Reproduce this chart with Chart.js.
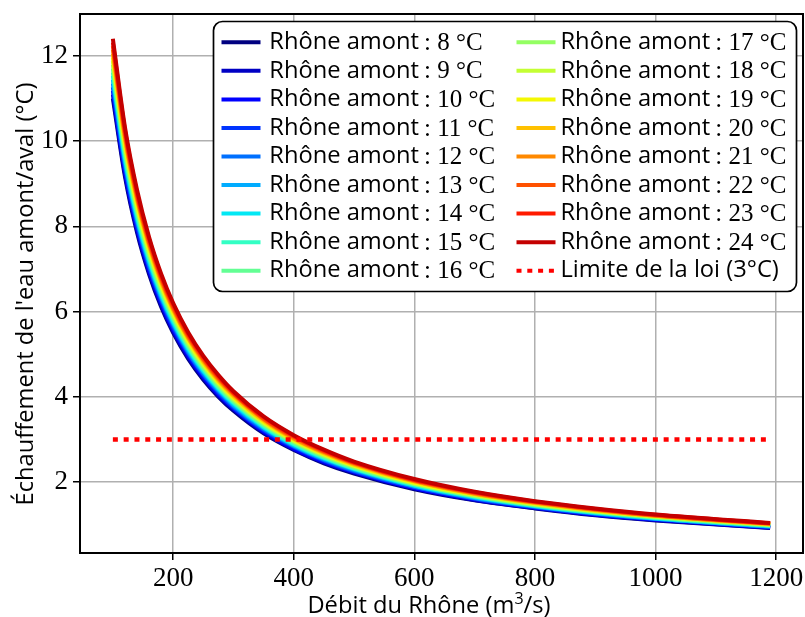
<!DOCTYPE html>
<html lang="fr">
<head>
<meta charset="utf-8">
<title>Échauffement du Rhône</title>
<script src="https://cdn.jsdelivr.net/npm/chart.js@4.4.1/dist/chart.umd.min.js"></script>
<style>
  html, body { margin: 0; padding: 0; background: #fff; }
  #wrap { width: 805px; height: 617px; }
</style>
</head>
<body>
<div id="wrap"><canvas id="rhoneChart" width="805" height="617"></canvas></div>
<script>
// Débits du Rhône (m3/s) où les courbes sont relevées
const debits = [100, 120, 140, 160, 180, 200, 225, 250, 275, 300, 350, 400, 450, 500, 600, 700, 800, 900, 1000, 1190];

// Températures amont du Rhône (°C)
const temperaturesAmont = [8, 9, 10, 11, 12, 13, 14, 15, 16, 17, 18, 19, 20, 21, 22, 23, 24];

// Échauffement amont/aval (°C) lu sur chaque courbe
const ech08 = [11.00, 9.17, 7.86, 6.88, 6.11, 5.50, 4.89, 4.40, 4.00, 3.67, 3.14, 2.75, 2.44, 2.20, 1.83, 1.57, 1.38, 1.22, 1.10, 0.92];
const ech09 = [11.09, 9.24, 7.92, 6.93, 6.16, 5.54, 4.93, 4.44, 4.03, 3.70, 3.17, 2.77, 2.46, 2.22, 1.85, 1.58, 1.39, 1.23, 1.11, 0.93];
const ech10 = [11.18, 9.31, 7.98, 6.98, 6.21, 5.59, 4.97, 4.47, 4.06, 3.73, 3.19, 2.79, 2.48, 2.24, 1.86, 1.60, 1.40, 1.24, 1.12, 0.94];
const ech11 = [11.26, 9.39, 8.04, 7.04, 6.26, 5.63, 5.01, 4.51, 4.10, 3.75, 3.22, 2.82, 2.50, 2.25, 1.88, 1.61, 1.41, 1.25, 1.13, 0.95];
const ech12 = [11.35, 9.46, 8.11, 7.09, 6.31, 5.68, 5.04, 4.54, 4.13, 3.78, 3.24, 2.84, 2.52, 2.27, 1.89, 1.62, 1.42, 1.26, 1.14, 0.95];
const ech13 = [11.44, 9.53, 8.17, 7.15, 6.35, 5.72, 5.08, 4.58, 4.16, 3.81, 3.27, 2.86, 2.54, 2.29, 1.91, 1.63, 1.43, 1.27, 1.14, 0.96];
const ech14 = [11.53, 9.60, 8.23, 7.20, 6.40, 5.76, 5.12, 4.61, 4.19, 3.84, 3.29, 2.88, 2.56, 2.31, 1.92, 1.65, 1.44, 1.28, 1.15, 0.97];
const ech15 = [11.61, 9.68, 8.29, 7.26, 6.45, 5.81, 5.16, 4.65, 4.22, 3.87, 3.32, 2.90, 2.58, 2.32, 1.94, 1.66, 1.45, 1.29, 1.16, 0.98];
const ech16 = [11.70, 9.75, 8.36, 7.31, 6.50, 5.85, 5.20, 4.68, 4.25, 3.90, 3.34, 2.93, 2.60, 2.34, 1.95, 1.67, 1.46, 1.30, 1.17, 0.98];
const ech17 = [11.79, 9.82, 8.42, 7.37, 6.55, 5.89, 5.24, 4.72, 4.29, 3.93, 3.37, 2.95, 2.62, 2.36, 1.96, 1.68, 1.47, 1.31, 1.18, 0.99];
const ech18 = [11.88, 9.90, 8.48, 7.42, 6.60, 5.94, 5.28, 4.75, 4.32, 3.96, 3.39, 2.97, 2.64, 2.38, 1.98, 1.70, 1.48, 1.32, 1.19, 1.00];
const ech19 = [11.96, 9.97, 8.54, 7.48, 6.65, 5.98, 5.32, 4.79, 4.35, 3.99, 3.42, 2.99, 2.66, 2.39, 1.99, 1.71, 1.50, 1.33, 1.20, 1.01];
const ech20 = [12.05, 10.04, 8.61, 7.53, 6.69, 6.03, 5.36, 4.82, 4.38, 4.02, 3.44, 3.01, 2.68, 2.41, 2.01, 1.72, 1.51, 1.34, 1.21, 1.01];
const ech21 = [12.14, 10.11, 8.67, 7.59, 6.74, 6.07, 5.39, 4.86, 4.41, 4.05, 3.47, 3.03, 2.70, 2.43, 2.02, 1.73, 1.52, 1.35, 1.21, 1.02];
const ech22 = [12.23, 10.19, 8.73, 7.64, 6.79, 6.11, 5.43, 4.89, 4.45, 4.08, 3.49, 3.06, 2.72, 2.45, 2.04, 1.75, 1.53, 1.36, 1.22, 1.03];
const ech23 = [12.31, 10.26, 8.79, 7.70, 6.84, 6.16, 5.47, 4.93, 4.48, 4.10, 3.52, 3.08, 2.74, 2.46, 2.05, 1.76, 1.54, 1.37, 1.23, 1.03];
const ech24 = [12.40, 10.33, 8.86, 7.75, 6.89, 6.20, 5.51, 4.96, 4.51, 4.13, 3.54, 3.10, 2.76, 2.48, 2.07, 1.77, 1.55, 1.38, 1.24, 1.04];

const echauffements = [ech08, ech09, ech10, ech11, ech12, ech13, ech14, ech15, ech16,
                       ech17, ech18, ech19, ech20, ech21, ech22, ech23, ech24];

// Limite réglementaire (°C) et son étendue en débit
const limiteLoi = 3;
const limiteDebits = [100, 1190];

// Graduations
const xTicks = [200, 400, 600, 800, 1000, 1200];
const yTicks = [2, 4, 6, 8, 10, 12];

// Palette "jet" (bleu foncé -> rouge foncé)
const couleurs = ['#000080', '#0000c4', '#0000ff', '#0034ff', '#0070ff', '#00acff', '#02e8f4',
                  '#33ffc4', '#63ff94', '#94ff63', '#c4ff33', '#f4f802', '#ffc100', '#ff8900',
                  '#ff5100', '#ff1a00', '#c40000'];

const policeSans = "'Open Sans', 'Noto Sans', sans-serif";
const policeSerif = "'Liberation Serif', 'DejaVu Serif', serif";
const tailleSans = 23.7;

// Jeux de données : une courbe par température amont + la limite
const datasets = temperaturesAmont.map((t, i) => ({
    label: `Rhône amont : ${t} °C`,
    data: debits.map((q, k) => ({ x: q, y: echauffements[i][k] })),
    borderColor: couleurs[i],
    backgroundColor: couleurs[i],
    borderWidth: 4,
    pointRadius: 0,
    cubicInterpolationMode: 'monotone',
    order: temperaturesAmont.length - i   // 24 °C dessiné en dernier
}));
datasets.push({
    label: 'Limite de la loi (3°C)',
    data: limiteDebits.map(q => ({ x: q, y: limiteLoi })),
    borderColor: '#ff0000',
    backgroundColor: '#ff0000',
    borderWidth: 4.5,
    borderDash: [5, 5.8],
    pointRadius: 0,
    order: -1
});

// Cadre noir autour de la zone de tracé
const cadrePlugin = {
    id: 'cadre',
    afterDatasetsDraw(chart) {
        const { ctx, chartArea: a } = chart;
        ctx.save();
        ctx.lineWidth = 2;
        ctx.strokeStyle = '#000';
        ctx.strokeRect(a.left, a.top, a.right - a.left, a.bottom - a.top);
        ctx.restore();
    }
};

// Titres des axes (avec exposant pour m³)
const titresPlugin = {
    id: 'titres',
    afterDraw(chart) {
        const ctx = chart.ctx;
        ctx.save();
        ctx.fillStyle = '#000';
        ctx.textBaseline = 'alphabetic';

        // Axe x
        const base = "Débit du Rhône (m";
        const fin = "/s)";
        ctx.font = `${tailleSans}px ${policeSans}`;
        const wBase = ctx.measureText(base).width;
        const wFin = ctx.measureText(fin).width;
        ctx.font = `16px ${policeSans}`;
        const wSup = ctx.measureText('3').width;
        const total = wBase + wSup + wFin;
        let x = 429 - total / 2;
        const yb = 613;
        ctx.font = `${tailleSans}px ${policeSans}`;
        ctx.textAlign = 'left';
        ctx.fillText(base, x, yb);
        x += wBase;
        ctx.font = `16px ${policeSans}`;
        ctx.fillText('3', x, yb - 9);
        x += wSup;
        ctx.font = `${tailleSans}px ${policeSans}`;
        ctx.fillText(fin, x, yb);

        // Axe y
        ctx.translate(32.5, 294);
        ctx.rotate(-Math.PI / 2);
        ctx.textAlign = 'center';
        ctx.fillText("Échauffement de l'eau amont/aval (°C)", 0, 0);
        ctx.restore();
    }
};

// Légende sur deux colonnes dans un cadre arrondi
const legendePlugin = {
    id: 'legende',
    afterDraw(chart) {
        const ctx = chart.ctx;
        ctx.save();
        ctx.beginPath();
        ctx.roundRect(213.5, 21.5, 583, 270, 9);
        ctx.fillStyle = '#fff';
        ctx.fill();
        ctx.lineWidth = 1.7;
        ctx.strokeStyle = '#000';
        ctx.stroke();

        chart.data.datasets.forEach((d, i) => {
            const col = i < 9 ? 0 : 1;
            const row = col ? i - 9 : i;
            const xh = col ? 516.5 : 221.5;
            const xt = col ? 560.5 : 269.3;
            const y = 42.3 + row * 28.55;

            ctx.beginPath();
            ctx.setLineDash(d.borderDash || []);
            ctx.lineWidth = 4;
            ctx.strokeStyle = d.borderColor;
            ctx.moveTo(xh, y);
            ctx.lineTo(xh + 39, y);
            ctx.stroke();
            ctx.setLineDash([]);

            ctx.fillStyle = '#000';
            ctx.textAlign = 'left';
            ctx.textBaseline = 'middle';
            const parts = d.label.split(' : ');
            ctx.font = `${tailleSans}px ${policeSans}`;
            ctx.fillText(parts[0], xt, y);
            if (parts.length > 1) {
                const w = ctx.measureText(parts[0]).width;
                ctx.font = `25px ${policeSerif}`;
                ctx.fillText(': ' + parts[1], xt + w + 5, y + 1);
            }
        });
        ctx.restore();
    }
};

// Supprime les marges automatiques pour fixer la zone de tracé
function sansMarges(s) {
    s.paddingLeft = 0;
    s.paddingRight = 0;
    s.paddingTop = 0;
    s.paddingBottom = 0;
}

const ctx = document.getElementById('rhoneChart').getContext('2d');
new Chart(ctx, {
    type: 'line',
    data: { datasets: datasets },
    options: {
        responsive: false,
        animation: false,
        devicePixelRatio: 1,
        layout: { padding: { left: 0, top: 14, right: 2, bottom: 0 } },
        plugins: {
            legend: { display: false },
            tooltip: { enabled: false }
        },
        scales: {
            x: {
                type: 'linear',
                min: 45.5,
                max: 1244.5,
                afterBuildTicks: s => { s.ticks = xTicks.map(v => ({ value: v })); },
                afterFit: s => { s.height = 64; sansMarges(s); },
                border: { display: false },
                grid: {
                    color: '#b0b0b0',
                    lineWidth: 1.5,
                    tickLength: 7,
                    tickColor: '#000',
                    tickWidth: 1.5
                },
                ticks: {
                    color: '#000',
                    padding: 3,
                    maxRotation: 0,
                    autoSkip: false,
                    callback: v => String(v),
                    font: { family: policeSerif, size: 27 }
                }
            },
            y: {
                min: 0.335,
                max: 12.98,
                afterBuildTicks: s => { s.ticks = yTicks.map(v => ({ value: v })); },
                afterFit: s => { s.width = 80; sansMarges(s); },
                border: { display: false },
                grid: {
                    color: '#b0b0b0',
                    lineWidth: 1.5,
                    tickLength: 7,
                    tickColor: '#000',
                    tickWidth: 1.5
                },
                ticks: {
                    color: '#000',
                    padding: 5,
                    autoSkip: false,
                    callback: v => String(v),
                    font: { family: policeSerif, size: 27 }
                }
            }
        }
    },
    plugins: [cadrePlugin, titresPlugin, legendePlugin]
});
</script>
</body>
</html>
